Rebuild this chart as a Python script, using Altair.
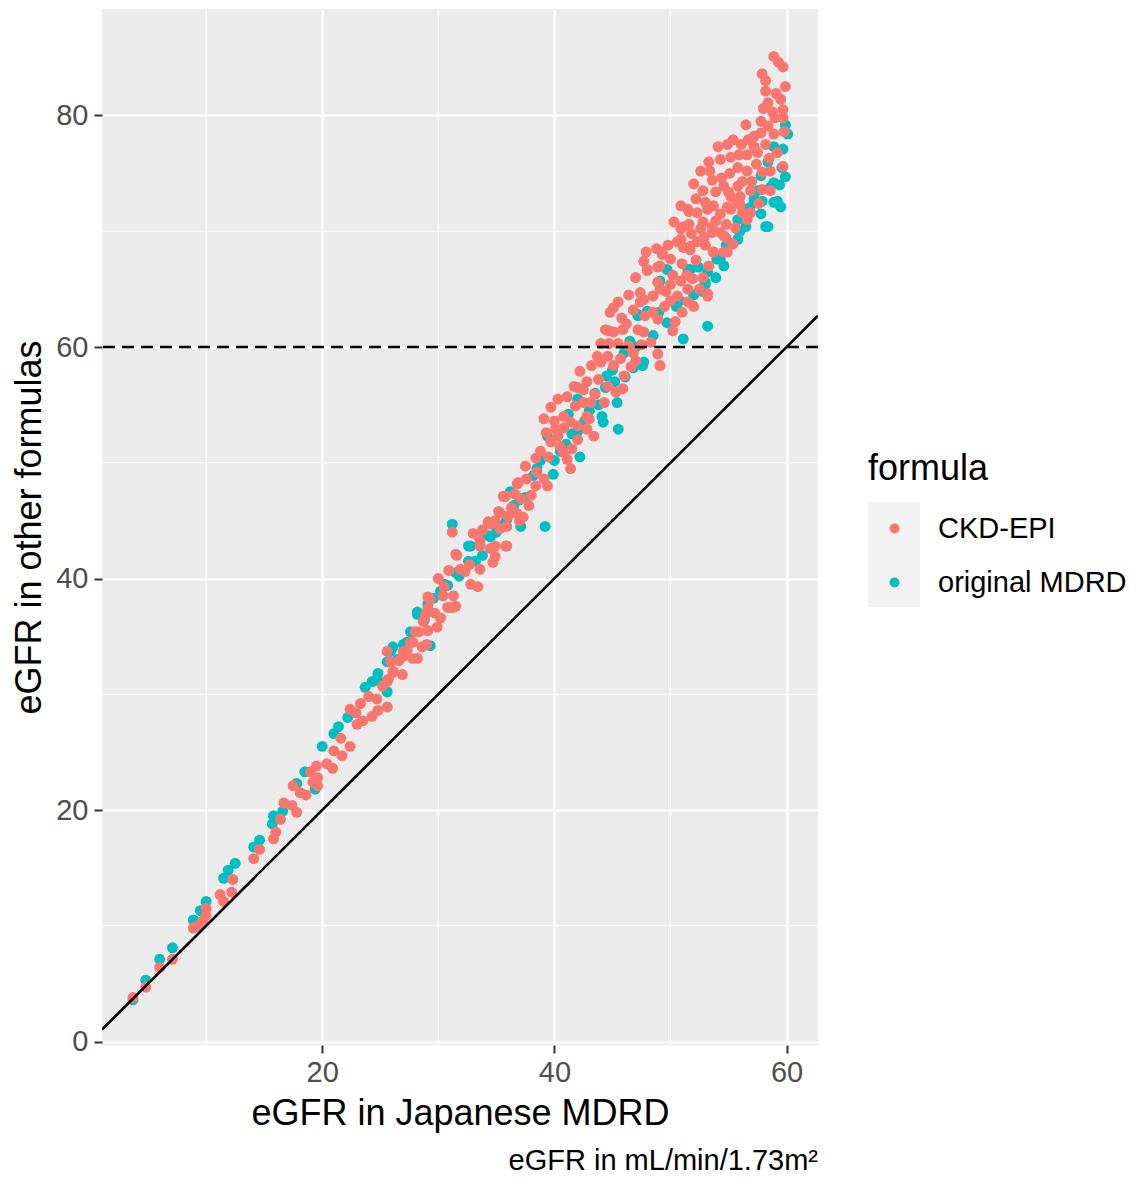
import altair as alt
import pandas as pd

# ---- CKD-EPI points (x = Japanese MDRD eGFR, y = CKD-EPI eGFR) ----
ckd_x = (
    [3.7, 4.8, 6.0, 7.1, 8.9, 9.3, 10.0, 10.0, 11.5, 12.2, 12.3, 14.1, 14.6, 15.8, 16.0, 16.7, 17.4, 17.8, 18.1, 17.5, 19.0, 19.5, 19.6, 19.6]
    + [21.0, 21.7, 22.4, 21.6, 22.4, 23.0, 23.5, 24.3, 24.8, 25.6, 24.0, 24.7, 25.7, 26.1, 25.9, 25.6, 27.0, 28.2, 27.8, 27.0, 27.8, 26.1, 25.6, 28.6]
    + [31.2, 33.0, 31.6, 30.0, 30.9, 31.9, 32.8, 33.4, 30.4, 31.3, 29.3, 30.8, 31.3, 28.9, 29.9, 29.1, 28.3, 27.6, 33.6, 34.5, 29.1, 29.1, 28.7, 28.0, 31.0, 31.5, 33.6, 34.7, 34.9, 31.5]
    + [34.3, 35.3, 35.2, 35.6, 36.8, 35.9, 33.4, 33.6, 34.9, 34.5, 35.3, 35.9, 35.8, 36.8, 37.3, 35.8, 36.6, 37.1, 37.8, 36.9, 37.5, 38.4, 38.5, 39.1, 39.4, 38.8, 39.7]
    + [40.3, 40.8, 41.4, 41.1, 40.1, 40.5, 39.1, 39.7, 40.3, 41.1, 41.8, 42.5, 43.1, 41.4, 42.8, 42.0, 42.8, 42.0, 43.4, 42.2, 42.8, 43.5, 43.8]
    + [44.6, 45.3, 45.9, 44.0, 44.6, 45.1, 45.7, 46.6, 44.0, 44.7, 45.5, 46.4, 44.4, 45.1, 45.9, 47.2, 47.7, 45.1, 45.5, 44.8, 47.4, 48.5, 49.1, 50.0, 48.9, 48.3, 48.9, 49.1, 50.2, 44.7, 47.8, 47.4]
    + [50.4, 51.5, 50.6, 53.2, 51.9, 50.9, 49.6, 48.9, 47.7, 53.3, 53.7, 54.9, 47.7, 48.0, 49.1, 49.3, 50.0, 50.6, 51.1, 51.7, 52.3, 50.9, 51.6, 52.6, 53.6, 54.6, 55.4, 50.9, 51.6, 53.7, 54.3, 55.2, 56.0, 56.9]
    + [58.9, 59.3, 59.7, 57.9, 58.2, 59.9, 58.2, 59.5, 58.4, 59.7, 58.8, 59.7, 56.5, 57.8, 58.4, 57.8, 57.2, 56.7, 58.9, 55.4, 54.9, 54.1, 53.3, 52.6, 52.0, 53.4, 54.3, 55.2, 55.9, 56.6, 57.5, 55.8, 56.6, 57.9, 58.6, 59.7, 54.6, 53.9, 55.0, 55.8, 56.0, 56.9, 57.9, 58.6, 51.5, 52.3, 53.2, 54.9, 56.2, 56.6, 51.1, 52.8, 53.6, 54.3, 50.9, 51.7, 53.7, 54.6, 53.2, 49.3, 48.0, 48.9]
    + [48.5, 49.5, 50.0, 51.0, 52.0, 52.5, 51.5, 50.2, 51.0, 52.2, 53.0, 52.8, 49.8, 48.8, 47.9, 50.3, 51.8, 52.9, 53.9, 54.8, 55.6, 55.2, 54.4, 53.6, 52.8, 52.2, 53.0, 57.0, 57.4, 56.2, 55.1, 56.1, 57.2, 58.2, 59.2, 59.0, 58.0, 59.1, 59.8, 58.5, 57.6, 55.7, 54.8, 51.4, 46.8, 46.2, 47.0, 46.4, 45.8, 47.5, 46.8, 43.7, 43.2, 42.5, 41.7, 40.8, 40.0, 39.3, 38.4, 37.6, 36.3, 36.0, 34.9, 33.8, 32.7, 32.3, 30.5, 29.7, 30.2, 29.0, 27.3, 26.6, 26.9, 25.2, 23.3, 22.9, 20.4, 20.9, 19.2, 18.6, 16.4, 11.2, 9.7]
    + [37.0, 38.0, 39.5, 41.5, 43.0, 44.3, 46.0, 47.0, 42.0, 40.8]
)
ckd_y = (
    [3.8, 4.7, 6.4, 7.1, 9.8, 10.0, 10.9, 11.5, 12.1, 12.9, 14.0, 15.8, 16.6, 17.5, 18.1, 20.6, 20.4, 19.8, 21.5, 22.1, 23.3, 23.8, 22.1, 22.8]
    + [25.1, 24.7, 25.5, 26.2, 28.7, 27.4, 27.7, 28.1, 28.6, 28.9, 29.8, 29.6, 31.3, 32.0, 32.8, 33.7, 33.7, 33.1, 34.5, 33.3, 33.1, 31.9, 31.1, 34.1]
    + [44.0, 43.9, 42.0, 40.0, 40.7, 40.8, 39.5, 39.3, 38.5, 38.5, 38.2, 37.5, 37.5, 36.9, 35.8, 35.5, 35.4, 34.5, 43.2, 42.6, 38.4, 37.4, 36.3, 35.4, 37.5, 37.6, 40.8, 41.4, 41.9, 42.1]
    + [44.9, 44.3, 45.8, 47.1, 48.2, 42.8, 43.7, 42.8, 42.8, 44.7, 45.7, 44.5, 42.8, 45.6, 45.3, 47.1, 47.3, 46.9, 46.3, 48.3, 49.7, 48.0, 49.2, 48.6, 48.0, 51.0, 51.8]
    + [52.3, 50.9, 49.5, 50.3, 52.9, 51.4, 53.8, 54.8, 55.5, 55.7, 54.9, 55.2, 55.2, 53.5, 54.0, 53.2, 52.9, 52.0, 52.3, 57.9, 57.0, 55.9, 57.2]
    + [56.6, 56.1, 56.4, 58.7, 59.2, 58.4, 59.0, 58.3, 60.3, 60.3, 60.3, 60.1, 61.5, 61.3, 61.5, 61.5, 61.3, 63.4, 63.9, 63.0, 64.7, 64.4, 65.0, 65.4, 62.4, 60.4, 59.4, 58.4, 61.4, 61.4, 62.7, 63.9]
    + [62.2, 63.9, 64.4, 64.6, 65.9, 65.7, 64.8, 65.6, 64.1, 67.0, 68.2, 68.2, 67.4, 66.6, 67.0, 68.0, 67.6, 69.1, 68.6, 68.4, 69.1, 70.2, 70.6, 70.2, 69.9, 69.6, 68.9, 72.2, 71.7, 72.2, 71.5, 71.9, 72.3, 71.6]
    + [85.1, 84.6, 84.2, 83.6, 83.0, 82.5, 82.1, 81.4, 81.1, 80.5, 80.3, 79.8, 79.2, 79.5, 79.1, 78.5, 78.2, 77.9, 78.4, 77.9, 77.5, 77.3, 76.0, 75.2, 74.1, 75.2, 76.2, 76.4, 76.6, 76.6, 76.8, 75.5, 75.2, 75.1, 75.2, 75.6, 73.9, 73.4, 73.4, 73.9, 73.0, 73.5, 73.6, 73.5, 71.9, 71.6, 71.9, 72.1, 71.6, 71.0, 70.4, 70.8, 70.4, 69.9, 69.3, 68.7, 68.2, 68.2, 64.4, 68.2, 66.7, 66.9]
    + [63.0, 63.5, 64.0, 63.0, 63.5, 65.0, 65.0, 66.2, 67.2, 67.5, 68.8, 66.0, 68.8, 68.5, 68.2, 70.8, 69.8, 69.5, 70.9, 70.6, 70.3, 73.0, 74.6, 74.4, 73.5, 72.8, 72.5, 74.3, 75.8, 74.3, 75.0, 77.5, 77.3, 77.5, 76.8, 79.8, 80.6, 81.9, 78.6, 76.3, 72.4, 72.5, 69.4, 66.2, 63.2, 62.0, 66.0, 64.5, 62.5, 60.2, 59.5, 59.2, 58.4, 56.3, 56.6, 54.0, 53.6, 52.6, 50.4, 48.6, 46.1, 45.4, 45.0, 44.2, 41.2, 40.6, 39.3, 37.0, 36.6, 34.3, 33.8, 32.9, 31.7, 30.7, 29.2, 28.4, 24.0, 23.6, 22.4, 21.3, 19.2, 12.7, 10.4]
    + [45.0, 47.2, 50.5, 51.2, 53.8, 55.2, 57.5, 58.8, 56.5, 53.0]
)

# ---- original MDRD points ----
mdrd_x = (
    [3.7, 4.8, 6.0, 7.1, 8.9, 9.5, 10.0, 11.5, 11.9, 12.5, 14.1, 14.6, 15.7, 15.8, 16.6, 17.8, 18.5, 19.4, 20.0, 21.0, 21.4, 22.2, 23.7, 24.3, 24.8, 25.6, 25.6, 25.9, 27.3, 26.1]
    + [31.2, 32.6, 32.6, 30.2, 29.1, 28.2, 27.6, 29.3, 32.8, 28.2, 34.3, 37.1, 36.2, 39.2, 35.9, 36.5, 38.2, 38.8, 39.9, 39.4, 42.2, 41.2, 42.0, 42.0, 44.2, 44.1, 45.5, 44.4, 45.4, 46.1, 47.2, 48.0, 47.7, 47.6, 49.7, 40.5, 41.5, 43.0, 43.5, 44.5, 45.0, 46.0, 46.5, 47.0, 30.5, 31.8, 33.8, 35.0, 37.5]
    + [53.2, 51.1, 53.0, 53.9, 54.3, 52.4, 51.5, 55.8, 56.0, 57.2, 57.8, 58.2, 59.5, 58.9, 59.9, 60.1, 59.7, 58.9, 58.4, 59.9, 57.8, 58.9, 57.2, 57.9, 59.2, 58.4, 55.8, 55.9, 54.0, 53.2, 53.0, 49.7, 51.7, 49.1, 47.2, 50.5, 52.0, 54.8, 56.5]
    + [55.0, 56.8, 57.5, 58.6, 59.4, 59.6, 56.5, 54.6, 52.8, 50.8, 49.0, 48.5, 46.8, 45.2, 43.8, 42.6, 41.0, 40.0, 38.5, 37.0, 35.5, 34.5, 33.2, 31.5, 30.8, 29.6, 28.8, 27.0, 26.5, 24.8]
)
mdrd_y = (
    [3.6, 5.3, 7.1, 8.1, 10.5, 11.3, 12.1, 14.1, 14.8, 15.4, 16.8, 17.4, 18.8, 19.5, 19.9, 22.3, 23.3, 21.8, 25.5, 26.6, 27.2, 28.0, 30.6, 31.1, 31.2, 30.2, 32.8, 33.7, 34.5, 34.1]
    + [44.7, 42.8, 41.5, 38.9, 37.8, 36.9, 35.4, 34.2, 42.8, 37.1, 43.7, 44.5, 47.5, 44.5, 45.1, 46.3, 48.9, 50.2, 49.0, 52.3, 50.5, 54.2, 55.5, 52.7, 53.5, 54.0, 52.9, 56.5, 55.2, 57.4, 62.7, 63.1, 58.7, 58.4, 62.1, 51.0, 52.5, 54.5, 56.0, 57.5, 58.0, 59.5, 60.5, 60.0, 39.5, 40.2, 42.0, 44.0, 47.0]
    + [61.8, 60.7, 65.4, 66.0, 67.6, 66.9, 66.7, 69.3, 70.0, 72.5, 71.5, 70.4, 72.1, 72.5, 79.2, 78.4, 77.1, 77.3, 76.0, 74.7, 74.8, 74.2, 72.8, 72.6, 72.6, 70.4, 71.0, 70.0, 67.6, 66.5, 65.6, 66.7, 66.7, 65.7, 62.8, 63.5, 64.5, 68.8, 71.5]
    + [69.0, 72.0, 73.5, 73.8, 74.0, 75.5, 70.4, 67.0, 64.8, 64.0, 63.0, 61.0, 58.2, 57.0, 55.0, 53.6, 51.6, 50.2, 49.5, 46.8, 44.6, 43.6, 41.5, 40.5, 39.4, 38.3, 36.4, 34.3, 33.0, 31.8]
)

formulas = ["CKD-EPI", "original MDRD"]
colors = ["#F8766D", "#00BFC4"]
x_domain = [1.03, 62.71]
y_domain = [-0.3, 89.2]
x_major = [20, 40, 60]
y_major = [0, 20, 40, 60, 80]
x_minor = [10, 30, 50]
y_minor = [10, 30, 50, 70]
threshold = [60]

assert len(ckd_x) == len(ckd_y) and len(mdrd_x) == len(mdrd_y)

pts = pd.DataFrame({
    "jp": mdrd_x + ckd_x,
    "other": mdrd_y + ckd_y,
    "formula": ["original MDRD"] * len(mdrd_x) + ["CKD-EPI"] * len(ckd_x),
})

FONT = "Liberation Sans, Arial, sans-serif"
X_TITLE = "eGFR in Japanese MDRD"
Y_TITLE = "eGFR in other formulas"


def xenc(field):
    return alt.X(field, type="quantitative", title=X_TITLE,
                 scale=alt.Scale(domain=x_domain, nice=False, zero=False),
                 axis=alt.Axis(values=x_major, labelPadding=5, titlePadding=9))


def yenc(field):
    return alt.Y(field, type="quantitative", title=Y_TITLE,
                 scale=alt.Scale(domain=y_domain, nice=False, zero=False),
                 axis=alt.Axis(values=y_major, labelPadding=6, titlePadding=7))


minor_x = alt.Chart(pd.DataFrame({"v": x_minor})).mark_rule(
    color="white", strokeWidth=1.1
).encode(x=xenc("v"))
minor_y = alt.Chart(pd.DataFrame({"v": y_minor})).mark_rule(
    color="white", strokeWidth=1.1
).encode(y=yenc("v"))

key_bg = alt.Chart(pd.DataFrame({"k": [0]})).mark_rect(fill="#F2F2F2").encode(
    x=alt.value(766), x2=alt.value(818), y=alt.value(493), y2=alt.value(598)
)

points = alt.Chart(pts).mark_circle(size=120, opacity=1).encode(
    x=xenc("jp"),
    y=yenc("other"),
    color=alt.Color(
        "formula:N",
        scale=alt.Scale(domain=formulas, range=colors),
        legend=alt.Legend(
            title="formula", orient="none", legendX=766, legendY=443,
            titleFont=FONT, titleFontSize=36, titleFontWeight="normal", titleColor="black",
            titlePadding=26, labelFont=FONT, labelFontSize=29, labelColor="black",
            labelLimit=400,
            symbolType="circle", symbolSize=100, symbolStrokeWidth=0, symbolOpacity=1,
            symbolOffset=12, labelOffset=29, rowPadding=24, padding=0,
        ),
    ),
)

identity = alt.Chart(pd.DataFrame({"a": x_domain, "b": x_domain})).mark_line(
    color="black", strokeWidth=2.6, clip=True
).encode(x=xenc("a"), y=yenc("b"))

hline = alt.Chart(pd.DataFrame({"t": threshold})).mark_rule(
    color="black", strokeWidth=2.6, strokeDash=[12, 7]
).encode(y=yenc("t"))

chart = alt.layer(minor_x, minor_y, key_bg, points, identity, hline).properties(
    width=716, height=1036,
    background="white",
    title=alt.TitleParams(
        "eGFR in mL/min/1.73m²", orient="bottom", anchor="end", frame="group",
        fontSize=29, font=FONT, fontWeight="normal", color="black", offset=16,
    ),
    autosize=alt.AutoSizeParams(type="none"),
    padding={"left": 94, "top": 1, "right": 315, "bottom": 130},
).configure_view(
    fill="#EBEBEB", strokeWidth=0
).configure_axis(
    grid=True, gridColor="white", gridWidth=2.2, domain=False,
    tickColor="#333333", tickWidth=2, tickSize=8,
    labelColor="#4D4D4D", labelFontSize=29, labelFont=FONT,
    titleFont=FONT, titleFontSize=36, titleColor="black", titleFontWeight="normal",
)

chart.save("out.html", embed_options={"renderer": "svg", "actions": False})
